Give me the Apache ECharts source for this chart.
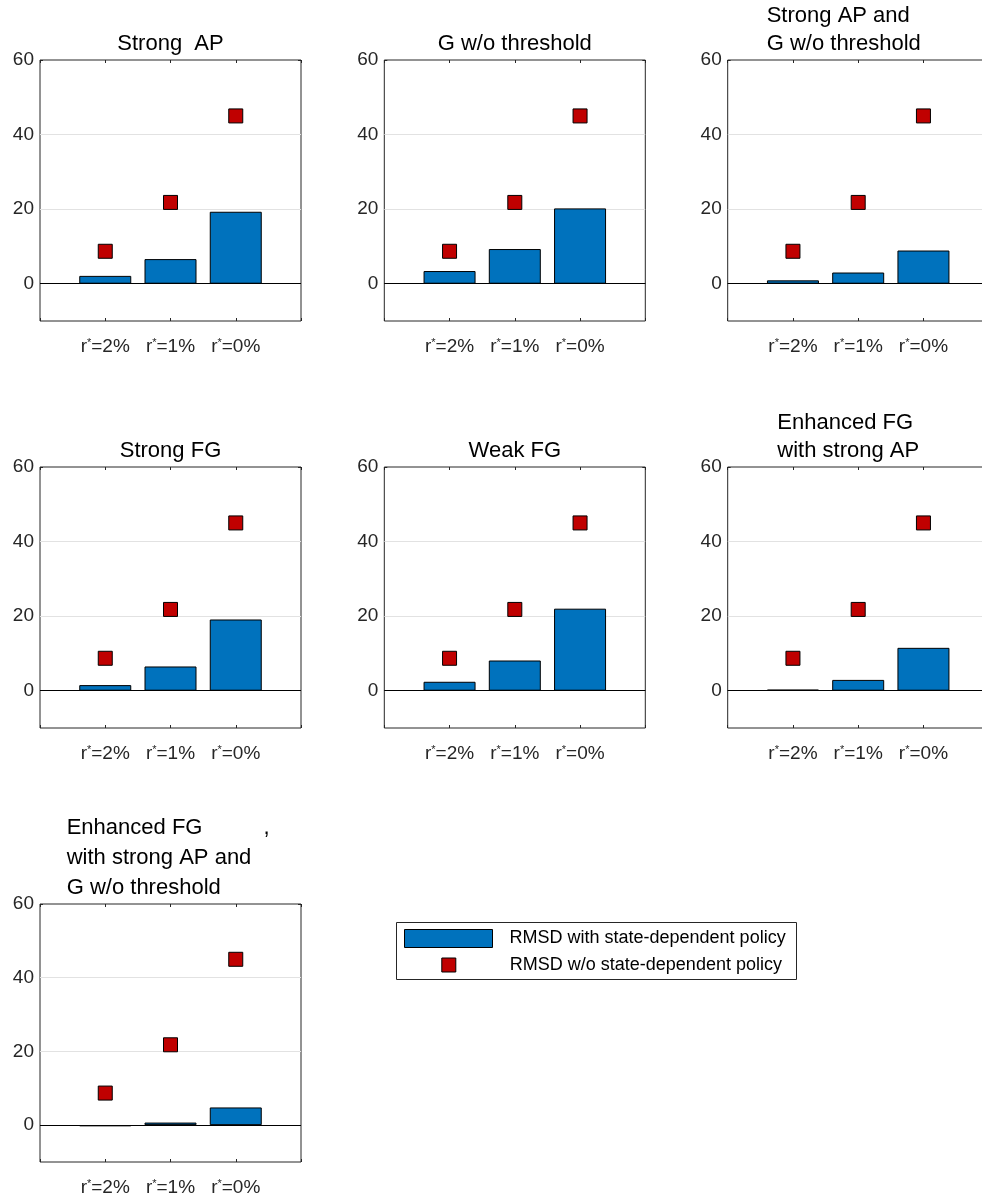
<!DOCTYPE html>
<html><head><meta charset="utf-8">
<script src="https://cdn.jsdelivr.net/npm/echarts@6/dist/echarts.min.js"></script>
<style>html,body{margin:0;padding:0;background:#fff}#c{width:982px;height:1199px}</style>
</head><body><div id="c"></div>
<script>
// ---- data ----
const rLabels = ['2%', '1%', '0%'];
const yTickValues = [0, 20, 40, 60];
const panelTitles = [
  'Strong  AP',
  'G w/o threshold',
  'Strong AP and\nG w/o threshold',
  'Strong FG',
  'Weak FG',
  'Enhanced FG\nwith strong AP',
  'Enhanced FG          ,\nwith strong AP and\nG w/o threshold'
];
const rmsdStrongAP        = [2.1, 6.6, 19.3];
const rmsdGNoThreshold    = [3.4, 9.3, 20.2];
const rmsdStrongAPandG    = [0.9, 3.0, 8.9];
const rmsdStrongFG        = [1.5, 6.5, 19.1];
const rmsdWeakFG          = [2.4, 8.1, 22.0];
const rmsdEnhFGStrongAP   = [0.3, 2.9, 11.5];
const rmsdEnhFGAll        = [-0.3, 0.7, 4.8];
const rmsdWithoutPolicy   = [8.7, 21.8, 45.0];
const legendNames = ['RMSD with state-dependent policy', 'RMSD w/o state-dependent policy'];

const withPolicy = [rmsdStrongAP, rmsdGNoThreshold, rmsdStrongAPandG, rmsdStrongFG, rmsdWeakFG, rmsdEnhFGStrongAP, rmsdEnhFGAll];

// ---- layout ----
const FONT = 'Liberation Sans';
const layout = [
  {left: 40,    top: 60,  h: 261, tTop: 30,  tLeft: 170.5, align: 'center', lh: 28},
  {left: 384.3, top: 60,  h: 261, tTop: 30,  tLeft: 514.8, align: 'center', lh: 28},
  {left: 727.7, top: 60,  h: 261, tTop: 1.5, tLeft: 766.7, align: 'left',   lh: 28},
  {left: 40,    top: 467, h: 261, tTop: 437, tLeft: 170.5, align: 'center', lh: 28},
  {left: 384.3, top: 467, h: 261, tTop: 437, tLeft: 514.8, align: 'center', lh: 28},
  {left: 727.7, top: 467, h: 261, tTop: 409, tLeft: 777.3, align: 'left',   lh: 28},
  {left: 40,    top: 904, h: 258, tTop: 813, tLeft: 66.7,  align: 'left',   lh: 30}
];

const grids = [], xAxes = [], yAxes = [], series = [], titles = [];
const tickStyle = {show: true, inside: true, length: 3, lineStyle: {color: '#262626', width: 1}};

layout.forEach((L, i) => {
  grids.push({left: L.left, top: L.top, width: 261, height: L.h, show: true,
    outerBoundsMode: 'none', containLabel: false,
    borderColor: '#262626', borderWidth: 1, backgroundColor: 'transparent'});
  titles.push({text: panelTitles[i], left: L.tLeft, top: L.tTop, textAlign: L.align, padding: 0,
    textStyle: {fontFamily: FONT, fontSize: 22, fontWeight: 'normal', color: '#000', lineHeight: L.lh}});
  const xBase = {gridIndex: i, type: 'value', min: 0, max: 4, interval: 1,
    axisLine: {show: false, onZero: false}, splitLine: {show: false}, axisTick: tickStyle};
  xAxes.push(Object.assign({}, xBase, {position: 'bottom',
    axisLabel: {margin: 16, color: '#262626', fontFamily: FONT, fontSize: 19,
      formatter: v => (v >= 1 && v <= 3) ? '{a|r}{s|*}{a|=' + rLabels[v - 1] + '}' : '',
      rich: {
        a: {fontFamily: FONT, fontSize: 19, color: '#262626'},
        s: {fontFamily: FONT, fontSize: 11, color: '#262626', verticalAlign: 'top'}
      }}}));
  xAxes.push(Object.assign({}, xBase, {position: 'top', axisLabel: {show: false}}));
  const yBase = {gridIndex: i, type: 'value', min: -10, max: 60,
    axisLine: {show: false, onZero: false}, splitLine: {show: false},
    axisTick: Object.assign({}, tickStyle, {customValues: yTickValues})};
  yAxes.push(Object.assign({}, yBase, {position: 'left',
    axisLabel: {customValues: yTickValues, margin: 6, color: '#262626', fontFamily: FONT, fontSize: 19}}));
  yAxes.push(Object.assign({}, yBase, {position: 'right', axisLabel: {show: false}}));

  const xi = 2 * i, yi = 2 * i;
  const barData = withPolicy[i].map((v, k) => [k + 1, v]);
  const dotData = rmsdWithoutPolicy.map((v, k) => [k + 1, v]);
  series.push({type: 'line', xAxisIndex: xi, yAxisIndex: yi, data: barData, silent: true,
    symbol: 'none', lineStyle: {opacity: 0}, z: 1, animation: false,
    markLine: {silent: true, z: 1, symbol: ['none', 'none'], label: {show: false}, animation: false,
      lineStyle: {color: '#e2e2e2', width: 1, type: 'solid'},
      data: [{yAxis: 20}, {yAxis: 40}]}});
  series.push({name: legendNames[0], type: 'bar', xAxisIndex: xi, yAxisIndex: yi, data: barData,
    barWidth: 52, z: 3, animation: false,
    itemStyle: {color: '#0072BD', borderColor: '#000', borderWidth: 1, opacity: 1},
    markLine: {silent: true, z: 4, symbol: ['none', 'none'], label: {show: false}, animation: false,
      lineStyle: {color: '#000', width: 1, type: 'solid'}, data: [{yAxis: 0}]}});
  series.push({name: legendNames[1], type: 'scatter', xAxisIndex: xi, yAxisIndex: yi, data: dotData,
    symbol: 'rect', symbolSize: 14, z: 5, animation: false,
    itemStyle: {color: '#C00000', borderColor: '#000', borderWidth: 1, opacity: 1}});
});

const chart = echarts.init(document.getElementById('c'), null, {renderer: 'canvas'});
chart.setOption({
  animation: false,
  backgroundColor: '#fff',
  title: titles,
  grid: grids,
  xAxis: xAxes,
  yAxis: yAxes,
  series: series,
  legend: [
    {left: 404, top: 929, padding: 0, itemWidth: 88, itemHeight: 18, selectedMode: false,
      data: [{name: legendNames[0], icon: 'rect'}],
      itemStyle: {borderColor: '#000', borderWidth: 1, opacity: 1},
      textStyle: {fontFamily: FONT, fontSize: 18, color: '#000', padding: [0, 0, 0, 12]}},
    {left: 441.3, top: 956, padding: 0, itemWidth: 14, itemHeight: 14, selectedMode: false,
      data: [{name: legendNames[1], icon: 'rect'}],
      itemStyle: {borderColor: '#000', borderWidth: 1, opacity: 1},
      textStyle: {fontFamily: FONT, fontSize: 18, color: '#000', padding: [0, 0, 0, 49]}}
  ],
  graphic: [{type: 'rect', z: 0, shape: {x: 396.5, y: 922.5, width: 400, height: 57},
    style: {fill: '#fff', stroke: '#262626', lineWidth: 1}}]
});
</script></body></html>
